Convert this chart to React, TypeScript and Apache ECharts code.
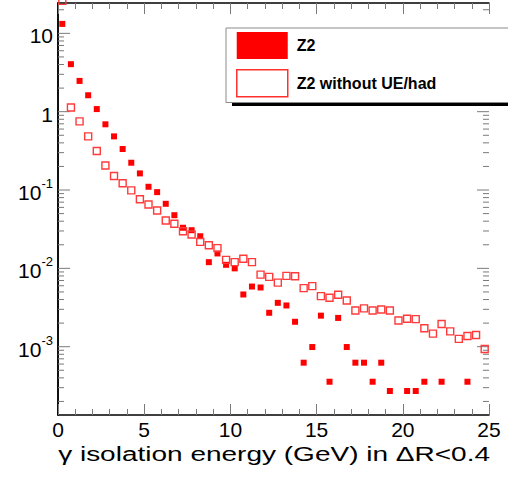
import React, { useEffect, useRef } from 'react';
import * as echarts from 'echarts';

// Bin centres (GeV) of the 0.5 GeV isolation-energy bins
const binCenters = [
  0.25, 0.75, 1.25, 1.75, 2.25, 2.75, 3.25, 3.75, 4.25, 4.75,
  5.25, 5.75, 6.25, 6.75, 7.25, 7.75, 8.25, 8.75, 9.25, 9.75,
  10.25, 10.75, 11.25, 11.75, 12.25, 12.75, 13.25, 13.75, 14.25, 14.75,
  15.25, 15.75, 16.25, 16.75, 17.25, 17.75, 18.25, 18.75, 19.25, 19.75,
  20.25, 20.75, 21.25, 21.75, 22.25, 22.75, 23.25, 23.75, 24.25, 24.75,
];

// Z2 tune
const z2Values: (number | null)[] = [
  13.2, 4.04, 2.47, 1.62, 1.08, 0.69, 0.484, 0.334, 0.223, 0.163,
  0.11, 0.094, 0.0667, 0.0477, 0.033, 0.0307, 0.0257, 0.012, 0.0155, 0.0111,
  0.01, 0.00464, 0.00586, 0.0057, 0.00271, 0.00363, 0.00336, 0.00208, 0.000625, 0.00099,
  0.00249, 0.000357, 0.00233, 0.00099, 0.000625, 0.000625, 0.000357, 0.000625, 0.000272, null,
  0.000272, 0.000272, 0.000357, null, 0.000357, null, null, 0.000357, null, null,
];

// Z2 without underlying event / hadronisation
const z2NoUeValues: (number | null)[] = [
  26, 1.13, 0.752, 0.484, 0.315, 0.206, 0.151, 0.122, 0.099, 0.0763,
  0.0653, 0.0547, 0.0408, 0.0371, 0.0298, 0.027, 0.0218, 0.0197, 0.0181, 0.01285,
  0.012, 0.01324, 0.012, 0.00832, 0.00778, 0.00658, 0.00801, 0.00792, 0.0056, 0.00593,
  0.00442, 0.00421, 0.0046, 0.00389, 0.0029, 0.00308, 0.0029, 0.00299, 0.0029, 0.00216,
  0.00227, 0.00225, 0.00172, 0.00147, 0.00195, 0.00157, 0.00126, 0.00137, 0.00141, 0.000935,
];

const seriesNames = ['Z2', 'Z2 without UE/had'];
const xMin = 0;
const xMax = 25;
const xInterval = 5;
const yMin = 1.343e-4;
const yMax = 24.4;
const yDecades = [1e-4, 1e-3, 1e-2, 1e-1, 1, 10];
const xTitle = 'γ isolation energy (GeV) in ΔR<0.4';

const FONT = '"Liberation Sans", Arial, Helvetica, sans-serif';
const TICK = '#7a7a7a';
const RED = '#ff0000';

// Frame ticks of the log axis: 1..9 times each power of ten
const yTickData: number[][] = [];
yDecades.forEach((d) => {
  for (let m = 1; m <= 9; m++) {
    const v = d * m;
    if (v > yMin && v < yMax) yTickData.push([0, v, m === 1 ? 1 : 0]);
  }
});

export default function App() {
  const ref = useRef<HTMLDivElement>(null);

  useEffect(() => {
    if (!ref.current) return;
    const chart = echarts.init(ref.current, undefined, { renderer: 'svg' });

    // stretch the axis title so it spans the x axis
    const titleFontSize = 20;
    let titleScale = 1;
    const cv = document.createElement('canvas').getContext('2d');
    if (cv) {
      cv.font = `${titleFontSize}px ${FONT}`;
      const w = cv.measureText(xTitle).width;
      if (w > 0) titleScale = 432 / w;
    }

    const xAxisBase = {
      type: 'value',
      min: xMin,
      max: xMax,
      interval: xInterval,
      splitLine: { show: false },
      axisLine: { show: true, lineStyle: { color: '#000', width: 1.5 } },
      axisTick: { show: true, inside: true, length: 11, lineStyle: { color: TICK, width: 1 } },
      minorTick: { show: true, splitNumber: 5, length: 6, lineStyle: { color: TICK, width: 1 } },
    };

    const yAxisBase = {
      type: 'log',
      logBase: 10,
      min: yMin,
      max: yMax,
      splitLine: { show: false },
      axisLine: { show: true, lineStyle: { color: '#000', width: 1.5 } },
      axisTick: { show: false },
    };

    const option = {
      animation: false,
      backgroundColor: '#fff',
      grid: { left: 58, top: 3, width: 431, height: 412, containLabel: false },
      xAxis: [
        {
          ...xAxisBase,
          position: 'bottom',
          axisLabel: { fontFamily: FONT, fontSize: 21, color: '#000', margin: 4 },
        },
        { ...xAxisBase, position: 'top', axisLabel: { show: false } },
      ],
      yAxis: [
        {
          ...yAxisBase,
          position: 'left',
          axisLabel: {
            margin: 5,
            formatter: (v: number) => {
              const e = Math.log10(v);
              const r = Math.round(e);
              if (Math.abs(e - r) > 1e-6) return '';
              if (r === 0) return '{m|1}';
              if (r === 1) return '{m|10}';
              return `{m|10}{s|${r}}`;
            },
            rich: {
              m: { fontFamily: FONT, fontSize: 21, color: '#000', padding: [5, 0, 0, 0] },
              s: { fontFamily: FONT, fontSize: 13, color: '#000', verticalAlign: 'top', padding: [0, 0, 0, 0] },
            },
          },
        },
        { ...yAxisBase, position: 'right', axisLabel: { show: false } },
      ],
      legend: {
        orient: 'vertical',
        left: 226,
        top: 28,
        itemWidth: 51,
        itemHeight: 27,
        itemGap: 10,
        padding: [4, 90, 5, 10],
        backgroundColor: '#fff',
        borderColor: '#8a8a8a',
        borderWidth: 1,
        selectedMode: false,
        z: 10,
        textStyle: { fontFamily: FONT, fontWeight: 'bold', fontSize: 16, color: '#000', padding: [0, 0, 0, 4] },
        data: [
          { name: seriesNames[0], icon: 'rect', itemStyle: { color: RED, borderWidth: 0, opacity: 1 } },
          {
            name: seriesNames[1],
            icon: 'rect',
            itemStyle: { color: '#fff', borderColor: '#ff3030', borderWidth: 1.5, opacity: 1 },
          },
        ],
      },
      graphic: [
        {
          type: 'rect',
          z: 5,
          shape: { x: 232, y: 34, width: 300, height: 72 },
          style: { fill: '#000' },
        },
        {
          type: 'text',
          x: 490,
          y: 454,
          scaleX: titleScale,
          style: {
            text: xTitle,
            font: `${titleFontSize}px ${FONT}`,
            fill: '#000',
            align: 'right',
            verticalAlign: 'middle',
          },
        },
      ],
      series: [
        {
          name: 'yticks',
          type: 'custom',
          silent: true,
          clip: false,
          z: 1,
          data: yTickData,
          encode: { x: 0, y: 1 },
          renderItem: (_params: any, api: any) => {
            const v = api.value(1);
            const len = api.value(2) === 1 ? 12 : 6;
            const pl = api.coord([xMin, v]);
            const pr = api.coord([xMax, v]);
            return {
              type: 'group',
              children: [
                { type: 'line', shape: { x1: pl[0], y1: pl[1], x2: pl[0] + len, y2: pl[1] }, style: { stroke: TICK, lineWidth: 1 } },
                { type: 'line', shape: { x1: pr[0], y1: pr[1], x2: pr[0] - len, y2: pr[1] }, style: { stroke: TICK, lineWidth: 1 } },
              ],
            };
          },
        },
        {
          name: seriesNames[0],
          type: 'scatter',
          symbol: 'rect',
          symbolSize: 6,
          z: 3,
          itemStyle: { color: RED, opacity: 1 },
          data: binCenters.map((x, i) => [x, z2Values[i]]).filter((d) => d[1] != null),
        },
        {
          name: seriesNames[1],
          type: 'scatter',
          symbol: 'rect',
          symbolSize: 7,
          clip: false,
          z: 4,
          itemStyle: { color: 'rgba(255,255,255,0)', borderColor: '#ff3a3a', borderWidth: 1.4, opacity: 1 },
          data: binCenters.map((x, i) => [x, z2NoUeValues[i]]).filter((d) => d[1] != null),
        },
      ],
    };

    chart.setOption(option as any);
    return () => chart.dispose();
  }, []);

  return (
    <div
      ref={ref}
      style={{ position: 'absolute', left: 0, top: 0, width: 508, height: 479 }}
    />
  );
}
